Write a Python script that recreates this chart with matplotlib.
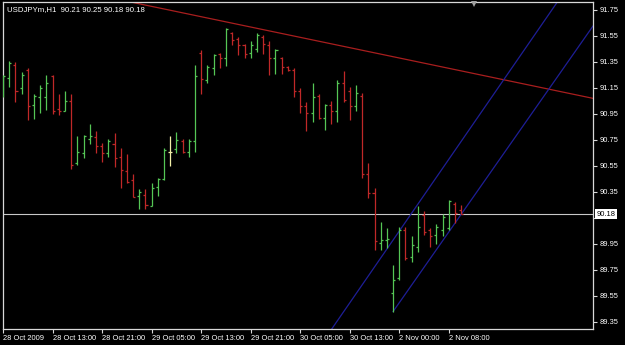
import numpy as np
import matplotlib
matplotlib.use("Agg")
import matplotlib.pyplot as plt
import matplotlib.transforms as mtransforms

# hourly USDJPYm bars (oldest first)
opens = [91.15, 91.23, 91.33, 91.15, 91.29, 91.02, 91.08, 91.08, 91.24, 90.99,
         90.97, 91.05, 90.57, 90.65, 90.76, 90.77, 90.70, 90.65, 90.72, 90.62,
         90.51, 90.44, 90.32, 90.33, 90.24, 90.39, 90.45, 90.66, 90.68, 90.74,
         90.66, 90.74, 91.42, 91.21, 91.30, 91.41, 91.38, 91.57, 91.53, 91.48,
         91.42, 91.45, 91.54, 91.48, 91.38, 91.38, 91.31, 91.29, 91.13, 91.01,
         90.96, 91.09, 90.92, 91.02, 90.97, 91.19, 91.13, 91.01, 91.09, 90.49,
         90.34, 89.96, 89.98, 89.57, 89.69, 90.06, 89.85, 89.93, 90.17, 90.06,
         90.02, 90.06, 90.07, 90.26, 90.21]
highs = [91.25, 91.36, 91.35, 91.27, 91.30, 91.10, 91.17, 91.25, 91.25, 91.10,
         91.13, 91.10, 90.78, 90.79, 90.87, 90.82, 90.73, 90.76, 90.80, 90.69,
         90.64, 90.49, 90.37, 90.37, 90.42, 90.46, 90.69, 90.78, 90.81, 90.76,
         90.76, 91.33, 91.44, 91.33, 91.41, 91.42, 91.61, 91.58, 91.54, 91.49,
         91.51, 91.57, 91.56, 91.51, 91.45, 91.39, 91.32, 91.30, 91.15, 91.04,
         91.19, 91.10, 91.03, 91.05, 91.21, 91.28, 91.16, 91.17, 91.11, 90.57,
         90.38, 90.12, 90.07, 89.79, 90.08, 90.08, 90.01, 90.24, 90.20, 90.07,
         90.10, 90.18, 90.29, 90.27, 90.25]
lows = [91.08, 91.16, 91.04, 91.10, 90.90, 90.91, 90.96, 90.98, 90.95, 90.94,
        90.97, 90.53, 90.56, 90.61, 90.72, 90.65, 90.58, 90.62, 90.54, 90.38,
        90.42, 90.31, 90.22, 90.22, 90.24, 90.32, 90.44, 90.55, 90.65, 90.65,
        90.62, 90.66, 91.10, 91.19, 91.25, 91.30, 91.32, 91.48, 91.40, 91.38,
        91.38, 91.43, 91.41, 91.25, 91.26, 91.26, 91.28, 91.08, 90.96, 90.82,
        90.89, 90.91, 90.83, 90.87, 90.89, 91.04, 90.90, 90.97, 90.46, 90.30,
        89.90, 89.90, 89.92, 89.43, 89.67, 89.83, 89.81, 89.89, 90.02, 89.93,
        89.95, 90.01, 90.06, 90.11, 90.18]
closes = [91.24, 91.34, 91.13, 91.25, 91.01, 91.09, 91.15, 91.19, 90.97, 90.97,
          91.05, 90.56, 90.66, 90.78, 90.78, 90.70, 90.65, 90.74, 90.61, 90.52,
          90.43, 90.31, 90.35, 90.25, 90.38, 90.45, 90.67, 90.66, 90.75, 90.66,
          90.74, 91.24, 91.22, 91.31, 91.40, 91.38, 91.60, 91.52, 91.48, 91.41,
          91.48, 91.56, 91.49, 91.38, 91.44, 91.31, 91.29, 91.13, 91.01, 90.96,
          91.08, 90.92, 91.02, 90.97, 91.19, 91.06, 91.01, 91.11, 90.49, 90.34,
          89.97, 89.98, 89.99, 89.67, 90.06, 89.84, 89.94, 90.08, 90.04, 90.01,
          90.08, 90.16, 90.28, 90.19, 90.18]

time_labels = ["28 Oct 2009", "28 Oct 13:00", "28 Oct 21:00", "29 Oct 05:00",
               "29 Oct 13:00", "29 Oct 21:00", "30 Oct 05:00", "30 Oct 13:00",
               "2 Nov 00:00", "2 Nov 08:00"]
time_label_bars = [0, 8, 16, 24, 32, 40, 48, 56, 64, 72]
price_ticks = [89.35, 89.55, 89.75, 89.95, 90.15, 90.35, 90.55, 90.75,
               90.95, 91.15, 91.35, 91.55, 91.75]
last_price = 90.18

# trendline (bar index, price) pairs and channel anchors
resistance = [(31.8, 91.70), (95.3, 91.07)]
channel_upper_anchor = (53.0, 89.29)
channel_upper_slope = 0.0690
channel_lower_anchor = (63.0, 89.43)
channel_lower_slope = 0.0680

UP = "#55c655"
DOWN = "#c02828"
DOJI = "#f2f0a8"
FG = "#d8d8d8"


def main():
    plt.rcParams["font.family"] = ["Liberation Sans", "DejaVu Sans"]
    fig = plt.figure(figsize=(6.25, 3.45), dpi=100, facecolor="black")
    ax = fig.add_axes([2.5 / 625, 1 - 329 / 345, 590.5 / 625, 327.5 / 345])
    ax.set_facecolor("black")

    x0, x1 = -0.1, 95.3
    ax.set_xlim(x0, x1)
    ax.set_ylim(89.296, 91.815)

    idx = np.arange(len(opens))
    o = np.array(opens)
    c = np.array(closes)
    colors = [UP if cc > oo else DOWN if cc < oo else DOJI for oo, cc in zip(o, c)]
    lw = 0.9
    ax.vlines(idx, lows, highs, colors=colors, lw=lw, zorder=3)
    ax.hlines(o, idx - 0.33, idx, colors=colors, lw=lw, zorder=3)
    ax.hlines(c, idx, idx + 0.33, colors=colors, lw=lw, zorder=3)

    # last price line
    ax.axhline(last_price, color="#c8c8c8", lw=0.8, zorder=2)

    # red resistance line, extended across the window
    (ax_, ay), (bx, by) = resistance
    k = (by - ay) / (bx - ax_)
    xs = np.array([x0 - 40, x1])
    ax.plot(xs, ay + k * (xs - ax_), color="#a81e1e", lw=0.9, zorder=2)

    # blue channel
    blue = "#1e1e96"
    xs = np.array([x0, x1])
    ux, uy = channel_upper_anchor
    ax.plot(xs, uy + channel_upper_slope * (xs - ux), color=blue, lw=0.9, zorder=2)
    lx, ly = channel_lower_anchor
    xs = np.array([lx, x1])
    ax.plot(xs, ly + channel_lower_slope * (xs - lx), color=blue, lw=0.9, zorder=2)

    # frame and axes
    for sp in ax.spines.values():
        sp.set_color(FG)
        sp.set_linewidth(0.9)
    ax.yaxis.tick_right()
    ax.set_yticks(price_ticks)
    # the 90.15 label sits under the current-price box, so leave it blank
    ax.set_yticklabels(["" if abs(p - 90.15) < 1e-6 else f"{p:.2f}" for p in price_ticks])
    ax.set_xticks(time_label_bars)
    ax.set_xticklabels(time_labels, ha="left")
    ax.tick_params(colors=FG, labelcolor="white", labelsize=5.4, length=3, width=0.8,
                   direction="out", pad=1.5)

    # current price box on the scale
    trans = mtransforms.blended_transform_factory(ax.transAxes, ax.transData)
    ax.text(1.006, last_price, f"{last_price:.2f}", transform=trans, fontsize=5.4,
            color="black", va="center", ha="left", clip_on=False, zorder=10,
            bbox=dict(boxstyle="square,pad=0.2", fc="white", ec="white", lw=0))

    # header
    ax.text(0.008, 0.985, "USDJPYm,H1  90.21 90.25 90.18 90.18", transform=ax.transAxes,
            fontsize=5.6, color="white", va="top", ha="left")

    # chart shift marker
    ax.plot([76.1], [91.795], marker="v", color="#a0a0a0", ms=4, mew=0,
            clip_on=False, zorder=5)

    fig.savefig("out.png", dpi=100, facecolor="black")


if __name__ == "__main__":
    main()
